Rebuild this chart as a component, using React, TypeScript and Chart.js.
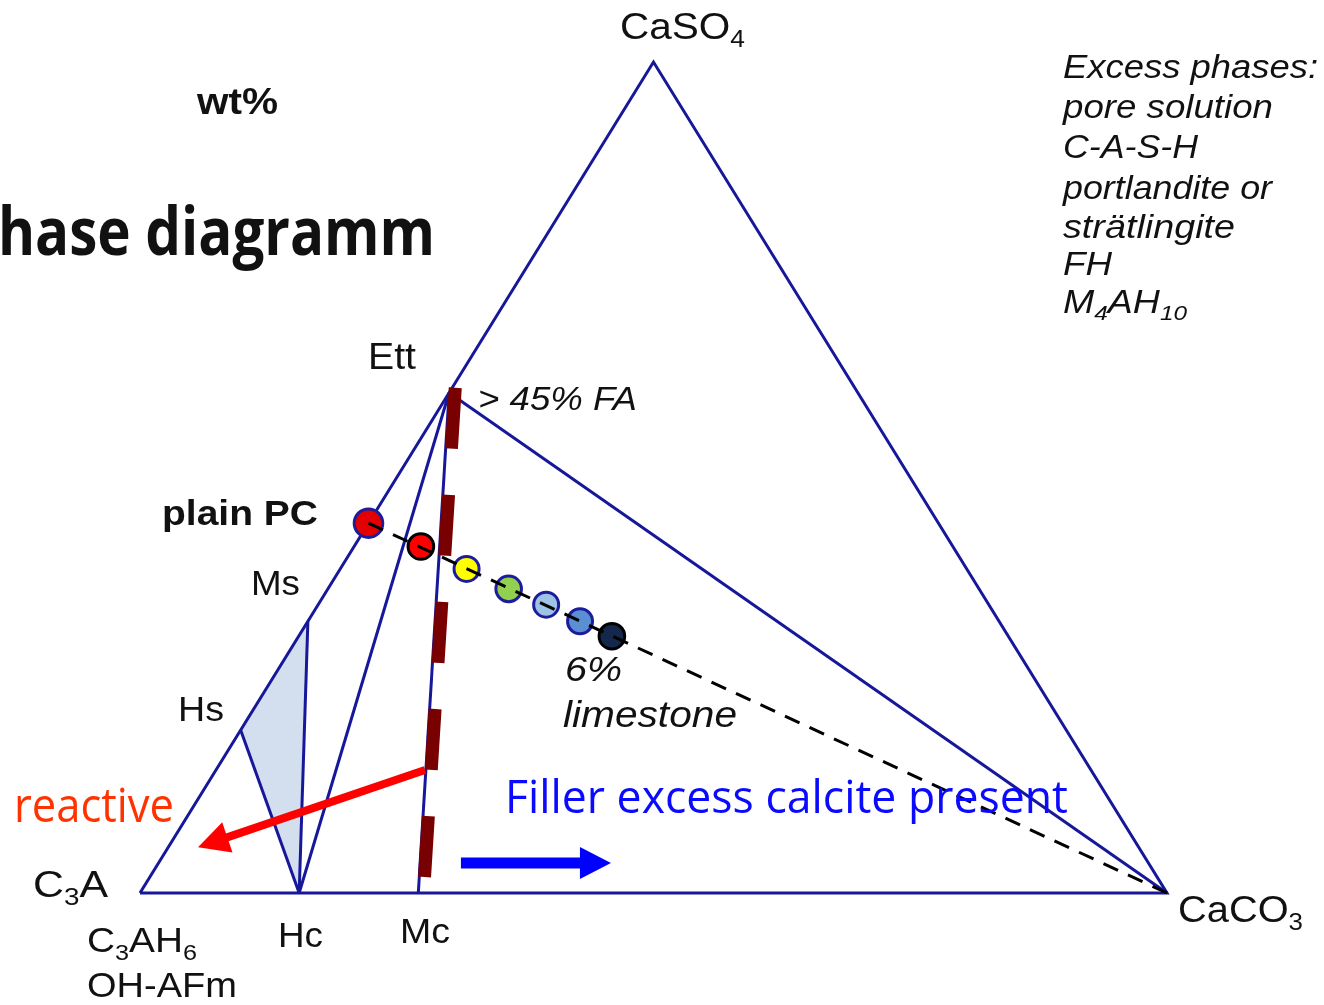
import React, { useEffect, useRef } from "react";
import { Chart, registerables } from "chart.js";

Chart.register(...registerables);

const W = 1324;
const H = 1005;

// Phase compositions in wt% on the C3A–CaSO4–CaCO3 basis (C3A is the balance)
const phaseNames = ["C3A", "CaSO4", "CaCO3", "Ett", "Ms", "Hs", "Hc", "Mc", "plain PC"];
const phaseCaSO4 = [0, 100, 0, 60.2, 32.7, 19.6, 0, 0, 44.5];
const phaseCaCO3 = [0, 0, 100, 0, 0, 0, 15.5, 27.1, 0];

const triangleEdge = ["C3A", "CaSO4", "CaCO3", "C3A"];
const tieLines = [
  ["Ett", "CaCO3"],
  ["Ett", "Hc"],
  ["Ett", "Mc"],
  ["Ms", "Hc"],
  ["Hs", "Hc"],
];
const shadedField = ["Hs", "Ms", "Hc", "Hs"];
const dilutionLine = ["plain PC", "CaCO3"];

// Cements with increasing limestone addition along the dilution line
const mixCaSO4 = [44.5, 41.7, 39.0, 36.6, 34.7, 32.7, 30.9];
const mixCaCO3 = [0, 6.5, 12.3, 17.6, 22.2, 26.5, 30.5];
const mixFill = ["#e30000", "#ff0000", "#ffff00", "#92d050", "#9dc3e6", "#5b8fd3", "#13284a"];
const mixBorder = ["#1d1d9c", "#000000", "#1d1d9c", "#1d1d9c", "#1d1d9c", "#1d1d9c", "#000000"];
const mixRadius = [14.3, 12.8, 12.5, 12.8, 12.5, 12.5, 12.8];

// Boundary of excess calcite (> 45 % FA)
const boundaryCaSO4 = [60.8, 1.8];
const boundaryCaCO3 = [0.3, 26.8];

// Direction arrows
const reactiveCaSO4 = [14.8, 5.5];
const reactiveCaCO3 = [20.35, 2.9];
const fillerCaSO4 = [3.6, 3.6];
const fillerCaCO3 = [29.45, 44.06];

const NAVY = "#17179a";
const ARIAL = "Liberation Sans";
const SEGOE = "Open Sans";

const toXY = (s: number, c: number) => ({ x: c + s / 2, y: s });
const phase = (name: string) => {
  const i = phaseNames.indexOf(name);
  return toXY(phaseCaSO4[i], phaseCaCO3[i]);
};
const pairs = (s: number[], c: number[]) => s.map((v, i) => toXY(v, c[i]));

type Label = {
  text: string;
  x: number;
  y: number;
  size: number;
  w: number;
  family: string;
  weight?: string;
  style?: string;
  color?: string;
  align?: "left" | "right";
  fit?: string;
};

const labels: Label[] = [
  { text: "CaSO_{4}", x: 620, y: 39, size: 40, w: 125, family: ARIAL },
  { text: "wt%", x: 197, y: 114, size: 40, w: 81, family: ARIAL, weight: "bold" },
  { text: "Phase diagramm", fit: "hase diagramm", align: "right", x: 435, y: 255, size: 74, w: 437, family: SEGOE, weight: "bold" },
  { text: "Excess phases:", x: 1063, y: 78, size: 36, w: 255, family: ARIAL, style: "italic" },
  { text: "pore solution", x: 1063, y: 118, size: 36, w: 210, family: ARIAL, style: "italic" },
  { text: "C-A-S-H", x: 1063, y: 158, size: 36, w: 135, family: ARIAL, style: "italic" },
  { text: "portlandite or", x: 1063, y: 199, size: 36, w: 209, family: ARIAL, style: "italic" },
  { text: "strätlingite", x: 1063, y: 238, size: 36, w: 172, family: ARIAL, style: "italic" },
  { text: "FH", x: 1063, y: 275, size: 36, w: 49, family: ARIAL, style: "italic" },
  { text: "M_{4}AH_{10}", x: 1063, y: 313, size: 36, w: 124, family: ARIAL, style: "italic" },
  { text: "Ett", x: 368, y: 369, size: 40, w: 48, family: ARIAL },
  { text: "> 45% FA", x: 478, y: 410, size: 36, w: 159, family: ARIAL, style: "italic" },
  { text: "plain PC", x: 162, y: 525, size: 39, w: 156, family: ARIAL, weight: "bold" },
  { text: "Ms", x: 251, y: 595, size: 38, w: 49, family: ARIAL },
  { text: "Hs", x: 178, y: 721, size: 38, w: 46, family: ARIAL },
  { text: "6%", x: 565, y: 681, size: 39, w: 57, family: ARIAL, style: "italic" },
  { text: "limestone", x: 563, y: 727, size: 40, w: 174, family: ARIAL, style: "italic" },
  { text: "Filler excess calcite present", x: 505, y: 813, size: 51, w: 563, family: SEGOE, color: "#0a0aff" },
  { text: "reactive", x: 14, y: 822, size: 53, w: 160, family: SEGOE, color: "#ff3300" },
  { text: "C_{3}A", x: 33, y: 897, size: 40, w: 75, family: ARIAL },
  { text: "C_{3}AH_{6}", x: 87, y: 952, size: 38, w: 110, family: ARIAL },
  { text: "OH-AFm", x: 87, y: 997, size: 38, w: 150, family: ARIAL },
  { text: "Hc", x: 278, y: 947, size: 38, w: 45, family: ARIAL },
  { text: "Mc", x: 400, y: 943, size: 38, w: 50, family: ARIAL },
  { text: "CaCO_{3}", x: 1178, y: 922, size: 40, w: 125, family: ARIAL },
];

const TEXT_SY = 0.9;

function parseRuns(text: string) {
  const parts = text.split(/_\{([^}]*)\}/);
  return parts
    .map((t, i) => ({ t, sub: i % 2 === 1 }))
    .filter((r) => r.t.length > 0);
}

function drawLabel(ctx: CanvasRenderingContext2D, l: Label) {
  const runs = parseRuns(l.text);
  const font = (sub: boolean) =>
    `${l.style || "normal"} ${l.weight || "normal"} ${sub ? l.size * 0.65 : l.size}px "${l.family}"`;
  const widths = runs.map((r) => {
    ctx.font = font(r.sub);
    return ctx.measureText(r.t).width;
  });
  const total = widths.reduce((a, b) => a + b, 0);
  let fitW = total;
  if (l.fit) {
    ctx.font = font(false);
    fitW = ctx.measureText(l.fit).width;
  }
  const sx = l.w / fitW;
  ctx.save();
  ctx.translate(l.x, l.y);
  ctx.scale(sx, TEXT_SY);
  ctx.fillStyle = l.color || "#111111";
  ctx.textBaseline = "alphabetic";
  ctx.textAlign = "left";
  let cx = l.align === "right" ? -total : 0;
  runs.forEach((r, i) => {
    ctx.font = font(r.sub);
    ctx.fillText(r.t, cx, r.sub ? l.size * 0.22 : 0);
    cx += widths[i];
  });
  ctx.restore();
}

const overlayPlugin = {
  id: "overlay",
  afterDatasetDraw(chart: any, args: any) {
    const ds = chart.data.datasets[args.index];
    if (!ds.arrow) return;
    const [a, b] = args.meta.data;
    const { color, shaft, headLen, headWidth } = ds.arrow;
    const dx = b.x - a.x;
    const dy = b.y - a.y;
    const len = Math.hypot(dx, dy);
    const ux = dx / len;
    const uy = dy / len;
    const bx = b.x - ux * headLen;
    const by = b.y - uy * headLen;
    const ctx = chart.ctx as CanvasRenderingContext2D;
    ctx.save();
    ctx.strokeStyle = color;
    ctx.fillStyle = color;
    ctx.lineWidth = shaft;
    ctx.lineCap = "butt";
    ctx.beginPath();
    ctx.moveTo(a.x, a.y);
    ctx.lineTo(bx + ux, by + uy);
    ctx.stroke();
    ctx.beginPath();
    ctx.moveTo(b.x, b.y);
    ctx.lineTo(bx - uy * headWidth / 2, by + ux * headWidth / 2);
    ctx.lineTo(bx + uy * headWidth / 2, by - ux * headWidth / 2);
    ctx.closePath();
    ctx.fill();
    ctx.restore();
  },
  afterDraw(chart: any) {
    const ctx = chart.ctx as CanvasRenderingContext2D;
    labels.forEach((l) => drawLabel(ctx, l));
  },
};

const lineBase = {
  type: "line" as const,
  pointRadius: 0,
  pointHoverRadius: 0,
  pointHitRadius: 0,
  tension: 0,
  fill: false,
};

function buildDatasets() {
  const list: any[] = [];
  list.push({
    ...lineBase,
    data: shadedField.map(phase),
    borderWidth: 0,
    borderColor: "rgba(0,0,0,0)",
    backgroundColor: "#d3dfee",
    fill: "shape",
  });
  list.push({
    ...lineBase,
    data: triangleEdge.map(phase),
    borderColor: NAVY,
    borderWidth: 3,
  });
  tieLines.forEach((t) =>
    list.push({
      ...lineBase,
      data: t.map(phase),
      borderColor: NAVY,
      borderWidth: 3,
    })
  );
  list.push({
    ...lineBase,
    data: pairs(reactiveCaSO4, reactiveCaCO3),
    showLine: false,
    arrow: { color: "#ff0000", shaft: 8, headLen: 31, headWidth: 32 },
  });
  list.push({
    ...lineBase,
    data: pairs(fillerCaSO4, fillerCaCO3),
    showLine: false,
    arrow: { color: "#0000ff", shaft: 11, headLen: 31, headWidth: 32 },
  });
  list.push({
    ...lineBase,
    data: pairs(boundaryCaSO4, boundaryCaCO3),
    borderColor: "#780000",
    borderWidth: 13,
    borderCapStyle: "butt",
    borderDash: [61, 46.3],
  });
  list.push({
    ...lineBase,
    data: pairs(mixCaSO4, mixCaCO3),
    showLine: false,
    pointRadius: mixRadius,
    pointBackgroundColor: mixFill,
    pointBorderColor: mixBorder,
    pointBorderWidth: 3,
  });
  list.push({
    ...lineBase,
    data: dilutionLine.map(phase),
    borderColor: "#000000",
    borderWidth: 3,
    borderDash: [16, 11],
  });
  const n = list.length;
  return list.map((d, i) => ({ ...d, order: n - i }));
}

export default function App() {
  const ref = useRef<HTMLCanvasElement | null>(null);

  useEffect(() => {
    if (!ref.current) return;
    const chart = new Chart(ref.current, {
      type: "scatter",
      data: { datasets: buildDatasets() },
      options: {
        animation: false,
        responsive: false,
        maintainAspectRatio: false,
        devicePixelRatio: 1,
        events: [],
        layout: { padding: 0, autoPadding: false },
        plugins: {
          legend: { display: false },
          tooltip: { enabled: false },
          title: { display: false },
        },
        scales: {
          x: { type: "linear", min: -13.63, max: 115.29, display: false },
          y: { type: "linear", min: -13.48, max: 107.46, display: false },
        },
      },
      plugins: [overlayPlugin],
    } as any);
    return () => chart.destroy();
  }, []);

  return (
    <div style={{ position: "absolute", left: 0, top: 0, width: W, height: H, background: "#ffffff" }}>
      <canvas ref={ref} width={W} height={H} style={{ display: "block", width: W, height: H }} />
    </div>
  );
}
